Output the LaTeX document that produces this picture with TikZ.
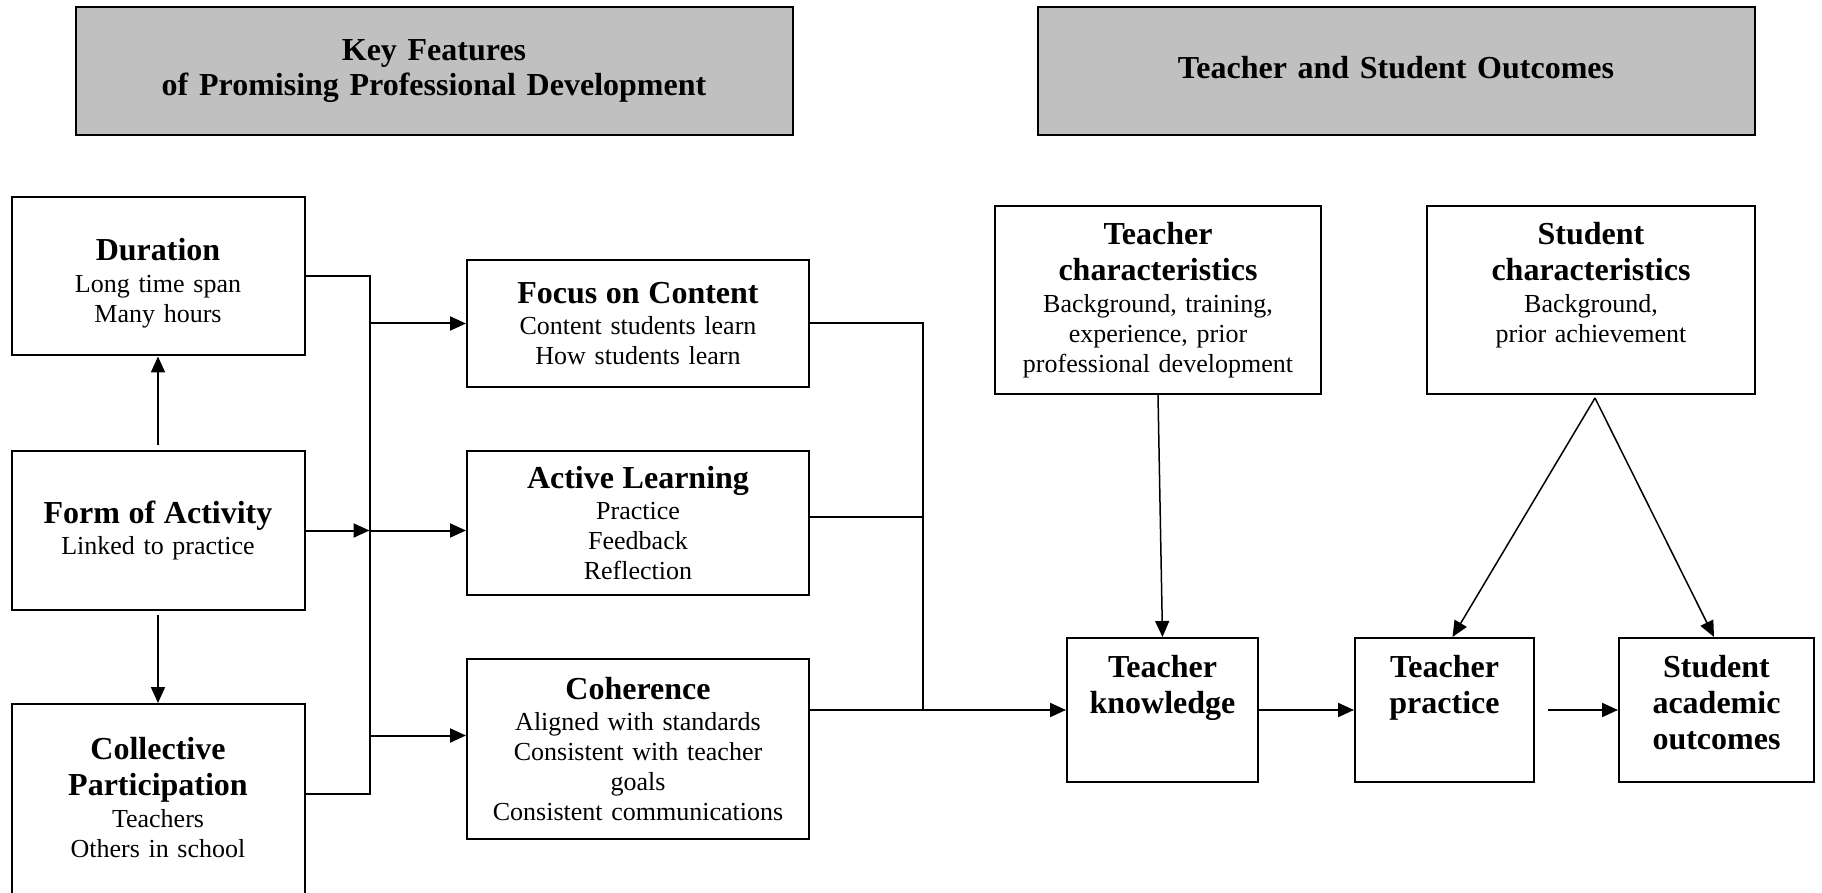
\documentclass[tikz,border=0pt]{standalone}
\usepackage{fontspec}
\setmainfont{Liberation Serif}
\usepackage{xcolor}
\usepackage{tikz}
\usetikzlibrary{calc}
\usetikzlibrary{arrows.meta}
\usetikzlibrary{positioning}

\definecolor{headgray}{RGB}{192,192,192}
\newcommand{\boxtitle}[1]{{\fontsize{16}{18}\selectfont\bfseries #1\par}\vspace{0.9pt}}

\begin{document}
\begin{tikzpicture}[x=0.5pt,y=-0.5pt]
% 1 unit = 1 px of the sheet
    \def\BUSL{369.5} % left collector
    \def\BUSR{922.6} % right collector

    \tikzset{
      box/.style={draw, line width=1pt, inner sep=0pt, align=center,
        font=\fontsize{13}{15}\selectfont},
      boxsize/.style 2 args={text width=#1, minimum height=#2},
      head/.style={box, fill=headgray,
        font=\fontsize{16}{17.5}\selectfont\bfseries},
      topbox/.style={box, text height=19.5pt, text depth=#1},
      arr/.style={-{Triangle[width=7pt,length=8pt]}, line width=1pt},
      thinarr/.style={-{Triangle[width=7pt,length=8pt]}, line width=0.75pt},
    }

    \clip (0,0) rectangle (1822,893);

    % HEADERS
    \node[head, boxsize={358.5pt}{64pt}] (hdrL) at (434,71)
        {Key Features\\of Promising Professional Development};
    \node[head, text width=358.5pt, text height=35.75pt, text depth=28.25pt] (hdrR) at (1396,71)
        {Teacher and Student Outcomes};

    % KEY FEATURES, first column
    \node[box, text width=146.5pt, text height=31.5pt, text depth=47.5pt] (dur) at (158,276.5)
        {\boxtitle{Duration}Long time span\\Many hours};
    \node[box, boxsize={146.5pt}{79.5pt}] (form) at (158,530.5)
        {\boxtitle{Form of Activity}Linked to practice};
    \node[box, text width=146.5pt, text height=27.75pt, text depth=70.25pt] (coll) at (158,802)
        {\boxtitle{Collective\\Participation}Teachers\\Others in school};

    % KEY FEATURES, second column
    \node[box, boxsize={171pt}{63.5pt}] (focus) at (638,323.5)
        {\boxtitle{Focus on Content}Content students learn\\How students learn};
    \node[box, boxsize={171pt}{72pt}] (active) at (638,523)
        {\boxtitle{Active Learning}Practice\\Feedback\\Reflection};
    \node[box, boxsize={171pt}{90pt}] (coher) at (638,749)
        {\boxtitle{Coherence}Aligned with standards\\Consistent with teacher\\goals\\Consistent communications};

    % OUTCOMES
    \node[topbox=74.5pt, text width=163pt] (tchar) at (1158,300)
        {\boxtitle{Teacher\\characteristics}Background, training,\\experience, prior\\professional development};
    \node[topbox=74.5pt, text width=164pt] (schar) at (1591,300)
        {\boxtitle{Student\\characteristics}Background,\\prior achievement};
    \node[topbox=52.5pt, text width=95.5pt] (tknow) at (1162.5,710)
        {\boxtitle{Teacher\\knowledge}};
    \node[topbox=52.5pt, text width=89.5pt] (tprac) at (1444.5,710)
        {\boxtitle{Teacher\\practice}};
    \node[topbox=52.5pt, text width=97.5pt] (sout) at (1716.5,710)
        {\boxtitle{Student\\academic\\outcomes}};

    % FORM OF ACTIVITY up and down
    \draw[arr, shorten <=2.5pt] (form.north) -- (dur.south);
    \draw[arr, shorten <=2pt] (form.south) -- (coll.north);

    % LEFT COLLECTOR
    \coordinate (busL) at (\BUSL,0);
    \coordinate (collout) at ([yshift=4pt]coll.east);
    \coordinate (coherin) at ([yshift=6.75pt]coher.west);
    \draw[line width=1pt] (dur.east) -| (busL |- collout) -- (collout);
    \draw[arr] (form.east) -- (busL |- form.east);
    \draw[arr] (busL |- focus.west) -- (focus.west);
    \draw[arr] (busL |- form.east) -- (active.west |- form.east);
    \draw[arr] (busL |- coherin) -- (coherin);

    % RIGHT COLLECTOR
    \coordinate (busR) at (\BUSR,0);
    \coordinate (activeout) at ([yshift=3pt]active.east);
    \draw[line width=1pt] (focus.east) -| (busR |- tknow.west);
    \draw[line width=1pt] (activeout) -- (busR |- activeout);
    \draw[arr] (coher.east |- tknow.west) -- (tknow.west);

    % CHARACTERISTICS
    \coordinate (apex) at ([xshift=2pt,yshift=-1.5pt]schar.south);
    \draw[thinarr] (tchar.south) -- (tknow.north);
    \draw[thinarr] (apex) -- ([xshift=4pt]tprac.north);
    \draw[thinarr] (apex) -- ([xshift=-1.25pt]sout.north);

    % CHAIN
    \draw[arr] (tknow.east) -- (tprac.west);
    \draw[arr, shorten <=6.3pt] (tprac.east) -- (sout.west);

\end{tikzpicture}
\end{document}
